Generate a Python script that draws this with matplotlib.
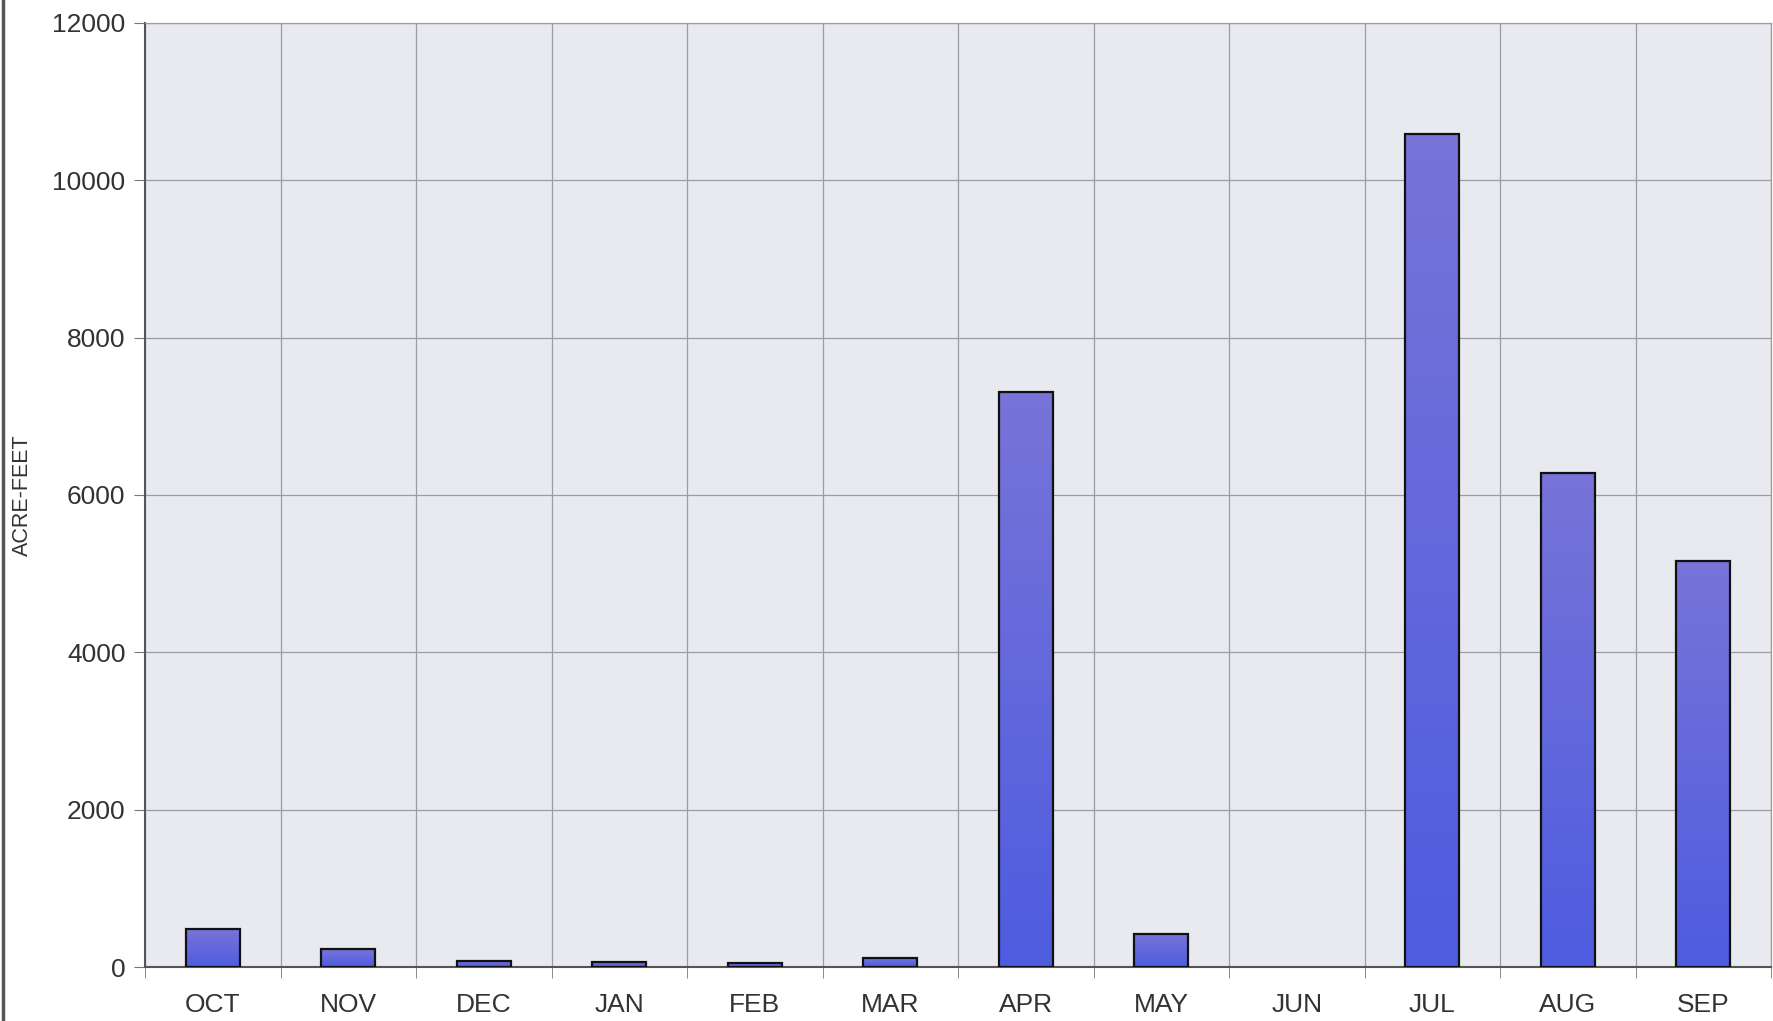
import matplotlib
matplotlib.use("Agg")
import matplotlib.pyplot as plt
from matplotlib.lines import Line2D
from matplotlib.colors import LinearSegmentedColormap
import numpy as np

months = ["OCT", "NOV", "DEC", "JAN", "FEB", "MAR",
          "APR", "MAY", "JUN", "JUL", "AUG", "SEP"]
acre_feet = [480, 225, 80, 65, 55, 120, 7310, 420, 0, 10590, 6280, 5160]
y_ticks = [0, 2000, 4000, 6000, 8000, 10000, 12000]

plt.rcParams['font.family'] = ['Liberation Sans', 'DejaVu Sans']

fig = plt.figure(figsize=(17.73, 10.21), dpi=100)
ax = fig.add_axes([145 / 1773, 1 - 967 / 1021, (1771 - 145) / 1773, (967 - 23) / 1021])
ax.set_facecolor('#e8eaf0')

x = np.arange(len(months))
bars = ax.bar(x, acre_feet, width=0.4, color='#5a63d8', edgecolor='none',
              linewidth=0, zorder=3)

# slight vertical gradient on the bars (lighter/purplish at the top)
grad = np.linspace(0, 1, 256).reshape(-1, 1)
cmap = LinearSegmentedColormap.from_list('bar', ['#4e5ce0', '#7874d8'])
for b in bars:
    if b.get_height() <= 0:
        continue
    im = ax.imshow(grad, cmap=cmap, aspect='auto', origin='lower',
                   extent=[b.get_x(), b.get_x() + b.get_width(), 0, b.get_height()],
                   zorder=3.5)
    im.set_clip_path(b)
    ax.add_patch(plt.Rectangle((b.get_x(), 0), b.get_width(), b.get_height(),
                               fill=False, edgecolor='#111111', linewidth=1.6, zorder=4))

ax.set_xlim(-0.5, len(months) - 0.5)
ax.set_ylim(0, 12000)
ax.set_yticks(y_ticks)
ax.set_yticklabels([str(v) for v in y_ticks])

# month labels centered, ticks/grid at category boundaries
ax.set_xticks(x)
ax.set_xticklabels(months)
ax.set_xticks(np.arange(-0.5, len(months), 1.0), minor=True)
ax.tick_params(axis='x', which='major', length=0, pad=19, labelsize=19, colors='#333333')
ax.tick_params(axis='x', which='minor', length=8, color='#777777')
ax.tick_params(axis='y', length=8, color='#777777', pad=6, labelsize=19, labelcolor='#333333')

ax.grid(True, axis='y', color='#9a9ca4', linewidth=0.9, zorder=1)
ax.grid(True, axis='x', which='minor', color='#9a9ca4', linewidth=0.9, zorder=1)

for s in ['left', 'bottom']:
    ax.spines[s].set_color('#555555')
    ax.spines[s].set_linewidth(1.5)
for s in ['top', 'right']:
    ax.spines[s].set_color('#9a9ca4')
    ax.spines[s].set_linewidth(0.9)

ax.set_ylabel('ACRE-FEET', fontsize=15.5, color='#333333')
ax.yaxis.set_label_coords((33 - 145) / 1626, 0.5)

# dark border at the left edge of the page
fig.add_artist(Line2D([0.0015, 0.0015], [0, 1], color='#555555', linewidth=2.5))

fig.savefig('out.png', dpi=100)
